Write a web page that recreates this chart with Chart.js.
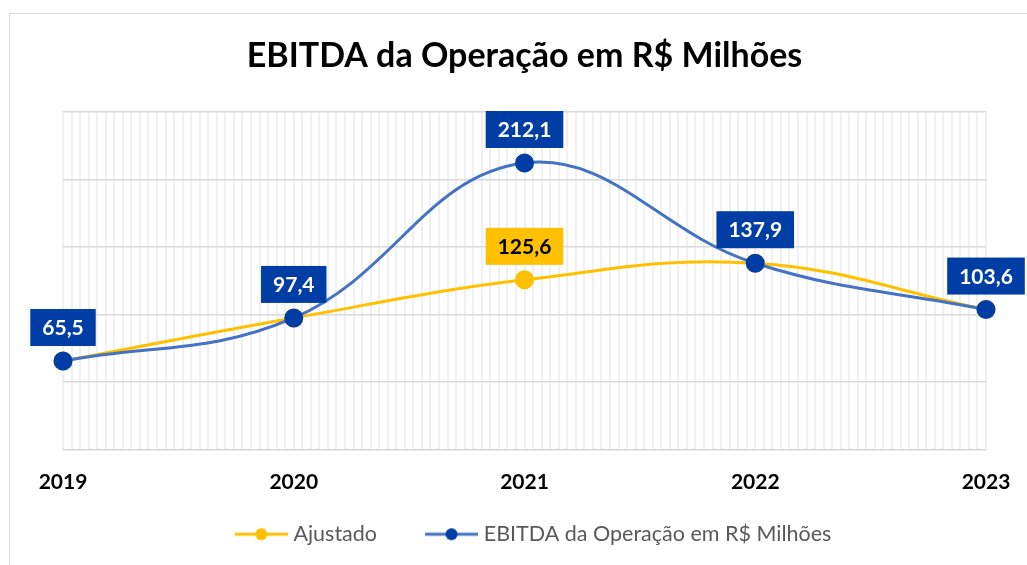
<!DOCTYPE html>
<html>
<head>
<meta charset="utf-8">
<script src="https://cdn.jsdelivr.net/npm/chart.js@4.4.1/dist/chart.umd.min.js"></script>
<style>
  body { margin: 0; background: #fff; }
  #wrap {
    position: absolute; left: 9px; top: 13px;
    width: 1017px; height: 551px;
    border-left: 1px solid #D9D9D9; border-top: 1px solid #D9D9D9;
  }
</style>
</head>
<body>
<div id="wrap"><canvas id="ebitda"></canvas></div>
<script>
// Dados do gráfico
const anos = ['2019', '2020', '2021', '2022', '2023'];
const ebitdaOperacao = [65.5, 97.4, 212.1, 137.9, 103.6];
const ajustado = [65.5, 97.4, 125.6, 137.9, 103.6];
const rotulosAjustado = [2]; // só o ponto de 2021 tem rótulo
const yTicks = [0, 50, 100, 150, 200, 250];

const AMARELO = '#FFC000';
const AZUL_LINHA = '#4472C4';
const AZUL_ESCURO = '#003DA5';
const FONTE = 'Lato, "Open Sans", sans-serif';

// icone da legenda: linha com bolinha, encostada à direita (a parte vazia faz o espaçamento)
function iconeLegenda(corLinha, corPonto) {
  const c = document.createElement('canvas');
  c.width = 75; c.height = 14;
  const ctx = c.getContext('2d');
  ctx.strokeStyle = corLinha;
  ctx.lineWidth = 3;
  ctx.beginPath();
  ctx.moveTo(22, 7); ctx.lineTo(75, 7);
  ctx.stroke();
  ctx.fillStyle = corPonto;
  ctx.beginPath();
  ctx.arc(48.5, 7, 6, 0, Math.PI * 2);
  ctx.fill();
  return c;
}

const formatar = v => v.toFixed(1).replace('.', ',');

// rótulos em caixa acima dos pontos
const rotulosPlugin = {
  id: 'rotulos',
  afterDatasetsDraw(chart) {
    const ctx = chart.ctx;
    ctx.save();
    ctx.font = 'bold 21px ' + FONTE;
    ctx.textAlign = 'center';
    ctx.textBaseline = 'middle';
    chart.data.datasets.forEach((ds, di) => {
      const meta = chart.getDatasetMeta(di);
      meta.data.forEach((pt, i) => {
        if (ds.rotulos && !ds.rotulos.includes(i)) return;
        const txt = formatar(ds.data[i]);
        const w = ctx.measureText(txt).width + 24;
        const h = 37;
        const x = pt.x - w / 2;
        const y = pt.y - 15 - h;
        ctx.fillStyle = ds.caixaCor;
        ctx.fillRect(x, y, w, h);
        ctx.fillStyle = ds.textoCor;
        ctx.fillText(txt, pt.x, y + h / 2 + 1);
      });
    });
    ctx.restore();
  }
};

new Chart(document.getElementById('ebitda'), {
  type: 'line',
  data: {
    labels: anos,
    datasets: [
      {
        label: 'EBITDA da Operação em R$ Milhões',
        data: ebitdaOperacao,
        borderColor: AZUL_LINHA,
        backgroundColor: AZUL_ESCURO,
        pointBackgroundColor: AZUL_ESCURO,
        pointBorderColor: AZUL_ESCURO,
        borderWidth: 3,
        pointRadius: 8,
        pointHoverRadius: 8,
        tension: 0.4,
        caixaCor: AZUL_ESCURO,
        textoCor: '#fff',
        legendaIcone: iconeLegenda(AZUL_LINHA, AZUL_ESCURO)
      },
      {
        label: 'Ajustado',
        data: ajustado,
        borderColor: AMARELO,
        backgroundColor: AMARELO,
        pointBackgroundColor: AMARELO,
        pointBorderColor: AMARELO,
        borderWidth: 3,
        pointRadius: 8,
        pointHoverRadius: 8,
        tension: 0.4,
        rotulos: rotulosAjustado,
        caixaCor: AMARELO,
        textoCor: '#000',
        legendaIcone: iconeLegenda(AMARELO, AMARELO)
      }
    ]
  },
  options: {
    responsive: true,
    maintainAspectRatio: false,
    animation: false,
    layout: { padding: { left: 53, right: 41, bottom: 10 } },
    plugins: {
      title: {
        display: true,
        text: 'EBITDA da Operação em R$ Milhões',
        color: '#000',
        font: { family: FONTE, size: 34, weight: 'bold' },
        padding: { top: 22, bottom: 35 }
      },
      legend: {
        position: 'bottom',
        reverse: true,
        labels: {
          color: '#595959',
          font: { family: FONTE, size: 21.5 },
          usePointStyle: true,
          pointStyleWidth: 65,
          padding: 31,
          generateLabels(chart) {
            return chart.data.datasets.map((ds, i) => ({
              text: ds.label,
              pointStyle: ds.legendaIcone,
              fillStyle: ds.borderColor,
              strokeStyle: ds.borderColor,
              fontColor: '#595959',
              lineWidth: 0,
              datasetIndex: i,
              hidden: false
            }));
          }
        }
      },
      tooltip: { enabled: false }
    },
    scales: {
      x: {
        type: 'category',
        offset: false,
        grid: { display: false },
        border: { display: false },
        afterFit(scale) { scale.height = 43; },
        ticks: {
          color: '#000',
          font: { family: FONTE, size: 21, weight: 'bold' },
          padding: 12,
          maxRotation: 0
        }
      },
      xMenor: {
        type: 'linear',
        position: 'bottom',
        min: 0,
        max: 108,
        z: -1,
        afterFit(scale) { scale.height = 0; },
        grid: { color: '#F0F0F0', lineWidth: 2, drawTicks: false },
        border: { display: false },
        ticks: { display: false, stepSize: 1 }
      },
      y: {
        min: 0,
        max: 250,
        afterBuildTicks(scale) { scale.ticks = yTicks.map(v => ({ value: v })); },
        grid: { color: '#D9D9D9', lineWidth: 1.5, drawTicks: false },
        border: { display: false },
        ticks: { display: false }
      }
    }
  },
  plugins: [rotulosPlugin]
});
</script>
</body>
</html>
